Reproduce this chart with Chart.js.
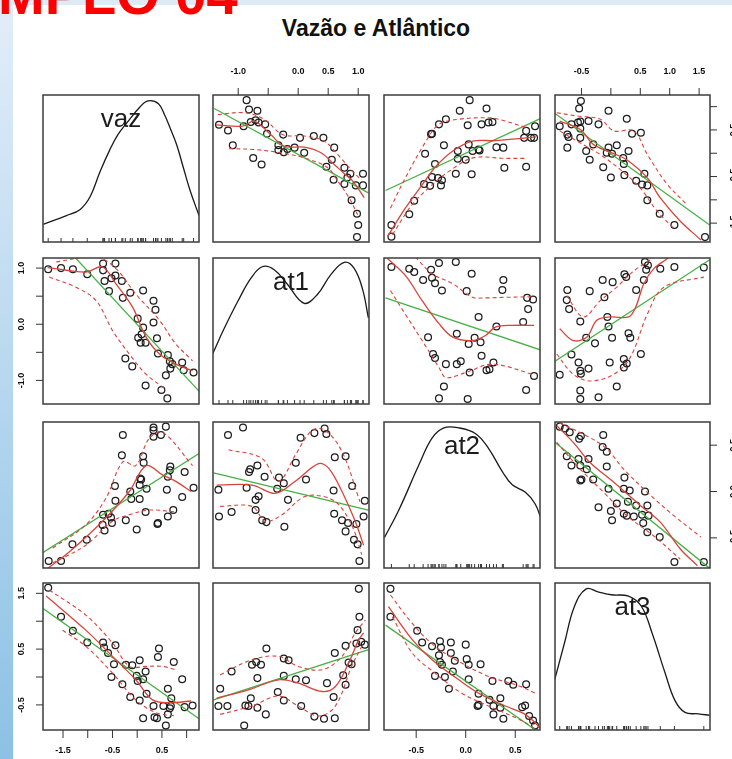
<!DOCTYPE html>
<html lang="pt">
<head>
<meta charset="UTF-8">
<title>Vazão e Atlântico</title>
<script src="https://cdn.jsdelivr.net/npm/chart.js"></script>
<style>
  html, body { margin: 0; padding: 0; }
  body {
    width: 732px; height: 759px; position: relative; overflow: hidden;
    background: #fff; font-family: "Liberation Sans", Arial, sans-serif;
  }
  .strip-left { position: absolute; left: 0; top: 0; width: 13px; height: 759px;
    background: linear-gradient(to bottom, #e2eef8, #8cc1e5); }
  .strip-top { position: absolute; left: 0; top: 0; width: 732px; height: 5px; background: #dcebf6; }
  .slide-tag { position: absolute; left: -2px; top: -33px; font-weight: bold; font-size: 56px;
    line-height: 56px; color: #ff0000; white-space: nowrap; }
  h1 { position: absolute; left: 376px; top: 17px; transform: translateX(-50%); margin: 0;
    font-size: 23px; line-height: 23px; font-weight: bold; color: #111; white-space: nowrap; }
  canvas { position: absolute; }
</style>
</head>
<body>
<div class="strip-left"></div>
<div class="strip-top"></div>
<div class="slide-tag">MPLO 04</div>
<h1>Vazão e Atlântico</h1>

<script>
// ---- observations, read pair by pair (upper panels), mirrored in the lower panels
const p1At1 = [-0.86,-0.82,-0.68,-1.32,-1.17,-0.91,-0.79,-0.71,-0.66,-0.55,-0.52,-1.09,-0.75,-0.61,-0.25,0.03,0.26,0.42,-0.33,-0.33,-0.24,-0.18,-0.06,0.10,0.60,0.56,0.47,0.77,0.87,0.59,0.77,0.82,1.08,0.96,1.08,0.89,0.98,1.00,0.98];
const p1Vaz = [1.14,0.94,0.91,0.61,0.49,0.58,0.67,0.71,0.66,0.62,0.42,0.17,-0.10,-0.24,0.40,0.33,0.37,0.33,0.17,0.07,0.02,0.09,0.12,0.01,0.12,-0.14,-0.29,-0.31,-0.44,-0.57,-0.66,-0.52,-0.44,-0.69,-0.69,-1.01,-1.30,-1.54,-1.80];

const p2At2 = [0.04,-0.06,0.21,-0.20,-0.27,-0.34,-0.35,0.02,0.16,0.27,0.23,-0.22,-0.41,-0.08,0.03,0.13,0.07,0.14,0.31,0.38,0.61,0.70,0.59,0.66,0.69,-0.08,0.00,0.39,0.61,-0.31,-0.34,-0.28,-0.24,-0.36,-0.25,-0.42,-0.10,0.06,-0.52,-0.57,-0.75,-0.75];
const p2Vaz = [1.14,0.91,0.96,0.73,0.62,0.42,0.41,0.60,0.62,0.67,0.66,0.17,-0.01,0.05,0.19,0.08,0.05,0.06,0.13,0.12,0.48,0.58,0.33,0.33,0.33,-0.12,-0.14,-0.31,-0.29,-0.23,-0.51,-0.53,-0.58,-0.70,-0.69,-0.66,-0.44,-0.45,-1.02,-1.31,-1.54,-1.79];

const p3At3 = [-0.51,-0.54,-0.04,0.27,-0.87,-0.67,-0.56,-0.52,-0.38,-0.21,-0.52,-0.74,-0.72,-0.52,-0.74,0.36,0.51,-0.30,-0.04,0.10,-0.42,-0.36,-0.07,0.02,0.30,0.21,0.22,-0.13,0.00,0.23,0.43,0.57,0.53,0.62,0.62,0.83,1.08,1.60];
const p3Vaz = [1.12,0.96,0.91,0.74,0.58,0.62,0.66,0.68,0.69,0.62,0.53,0.40,0.35,0.33,0.12,0.42,0.44,0.19,0.12,0.17,0.05,-0.14,0.01,-0.01,0.05,-0.10,-0.23,-0.30,-0.52,-0.47,-0.59,-0.44,-0.67,-0.69,-1.01,-1.30,-1.54,-1.80];

const p4At2 = [-0.75,-0.57,-0.52,-0.43,-0.35,-0.34,-0.31,-0.24,-0.27,-0.10,0.06,0.01,0.38,0.37,0.62,0.68,0.63,0.13,0.31,0.58,-0.38,-0.09,0.03,0.09,0.15,-0.33,-0.31,-0.20,-0.09,-0.05,0.04,0.16,0.21,0.24,0.28,0.69,0.61,-0.22,-0.27,0.02];
const p4At1 = [1.02,0.99,0.93,0.79,0.97,0.83,0.73,0.60,1.09,1.11,0.90,0.59,0.79,0.61,0.47,0.44,0.27,0.13,-0.04,0.04,-0.23,-0.17,-0.35,-0.24,-0.32,-0.53,-0.60,-0.71,-0.71,-0.66,-0.86,-0.56,-0.82,-0.80,-0.68,-0.92,-1.17,-1.11,-1.32,-1.33];

const p5At3 = [0.58,0.63,0.60,0.84,1.08,1.58,0.23,0.26,-0.14,0.03,0.56,0.43,-0.36,-0.74,-0.75,-0.71,-0.11,-0.52,-0.06,-0.04,-0.42,-0.27,0.02,0.30,0.33,-0.67,0.51,-0.55,-0.52,-0.51,-0.38,-0.02,0.22,0.27,0.22,-0.87,0.10,-0.52,-0.52,-0.21];
const p5At1 = [1.11,1.05,0.97,0.99,1.02,1.01,0.89,0.84,0.79,0.75,0.79,0.61,0.59,0.61,0.43,0.27,0.48,0.05,0.13,-0.04,-0.24,-0.34,-0.24,-0.16,-0.24,-0.54,-0.53,-0.68,-0.83,-0.88,-0.79,-0.68,-0.62,-0.70,-0.77,-0.90,-1.11,-1.18,-1.33,-1.30];

const p6At3 = [-0.87,-0.78,-0.70,-0.54,-0.51,-0.13,-0.14,-0.07,-0.75,-0.55,-0.38,-0.67,-0.52,-0.41,-0.07,-0.50,-0.52,-0.30,0.23,-0.04,0.22,0.32,0.58,0.10,0.29,0.43,0.62,-0.21,0.00,0.22,0.27,0.39,0.53,0.64,0.02,0.55,0.62,0.83,1.08,1.58];
const p6At2 = [0.70,0.68,0.64,0.57,0.60,0.61,0.48,0.43,0.38,0.35,0.35,0.28,0.28,0.24,0.27,0.13,0.12,0.13,0.15,0.03,0.03,0.01,0.00,-0.13,-0.11,-0.15,-0.15,-0.17,-0.21,-0.24,-0.26,-0.27,-0.25,-0.26,-0.31,-0.34,-0.44,-0.49,-0.76,-0.76];

// ---- fitted lines per panel (row, col), as [x, y] pairs: green = linear fit, red = smoother, upper/lower = spread
const green12 = [[-1.40,0.96],[1.17,-0.85]];
const smooth12 = [[-1.37,0.61],[-0.93,0.58],[-0.73,0.69],[-0.46,0.40],[-0.23,0.15],[0.10,0.13],[0.38,0.01],[0.60,-0.24],[0.77,-0.44],[0.91,-0.60],[1.10,-0.95]];
const upper12 = [[-1.34,0.83],[-0.90,0.87],[-0.57,0.73],[-0.26,0.40],[0.10,0.37],[0.43,0.26],[0.66,-0.03],[0.88,-0.35],[1.05,-0.57]];
const lower12 = [[-1.15,0.10],[-0.73,0.08],[-0.29,0.01],[0.10,-0.10],[0.49,-0.31],[0.66,-0.60],[0.85,-0.96],[0.99,-1.32]];

const green13 = [[-0.81,-0.80],[0.76,0.75]];
const smooth13 = [[-0.79,-1.79],[-0.61,-1.18],[-0.44,-0.68],[-0.30,-0.28],[-0.13,0.05],[0.07,0.26],[0.30,0.27],[0.61,0.33],[0.71,0.35]];
const upper13 = [[-0.76,-1.18],[-0.61,-0.53],[-0.40,0.26],[-0.27,0.62],[-0.07,0.73],[0.24,0.76],[0.40,0.69],[0.61,0.55]];
const lower13 = [[-0.74,-1.75],[-0.54,-1.10],[-0.34,-0.68],[-0.17,-0.39],[0.07,-0.10],[0.40,-0.11],[0.61,-0.11]];

const green14 = [[-0.97,0.87],[1.68,-1.54]];
const smooth14 = [[-0.87,0.69],[-0.52,0.51],[-0.30,0.19],[0.05,-0.01],[0.27,-0.14],[0.62,-0.53],[0.84,-0.96],[1.18,-1.46],[1.53,-1.86]];
const upper14 = [[-0.92,0.87],[-0.58,0.80],[-0.18,0.73],[0.05,0.48],[0.39,0.48],[0.62,-0.03],[0.96,-0.67],[1.30,-1.11]];
const lower14 = [[-0.87,0.48],[-0.52,0.22],[-0.18,-0.03],[0.16,-0.35],[0.50,-0.75],[0.79,-1.25],[1.07,-1.61]];

const green21 = [[-1.90,1.80],[1.25,-1.19]];
const smooth21 = [[-1.81,1.01],[-1.04,0.93],[-0.70,1.02],[-0.43,0.72],[-0.09,0.30],[0.18,-0.23],[0.45,-0.53],[0.78,-0.71],[1.12,-0.83]];
const upper21 = [[-1.64,1.11],[-0.83,1.20],[-0.43,0.99],[-0.03,0.54],[0.45,0.07],[0.78,-0.35],[1.12,-0.65]];
const lower21 = [[-1.78,0.84],[-1.24,0.66],[-0.83,0.42],[-0.50,-0.11],[-0.16,-0.53],[0.18,-0.89],[0.58,-1.16]];

const green23 = [[-0.81,0.47],[0.76,-0.46]];
const smooth23 = [[-0.79,1.17],[-0.61,0.87],[-0.44,0.42],[-0.27,0.01],[-0.13,-0.23],[0.07,-0.29],[0.20,-0.20],[0.30,-0.05],[0.47,-0.02],[0.69,-0.02]];
const upper23 = [[-0.51,1.20],[-0.34,0.90],[-0.13,0.72],[0.07,0.48],[0.20,0.47],[0.40,0.48],[0.67,0.49]];
const lower23 = [[-0.76,0.60],[-0.61,0.18],[-0.44,-0.29],[-0.27,-0.77],[-0.20,-0.95],[0.00,-0.86],[0.27,-0.71],[0.69,-0.90]];

const green24 = [[-0.98,-0.68],[1.68,1.15]];
const smooth24 = [[-0.87,-0.08],[-0.64,-0.29],[-0.41,-0.23],[-0.24,0.07],[-0.01,0.13],[0.30,0.13],[0.42,0.30],[0.56,0.72],[0.73,0.99],[0.96,1.17],[1.10,1.30]];
const upper24 = [[-0.75,0.51],[-0.47,0.13],[-0.18,0.42],[0.10,0.66],[0.27,0.84],[0.44,0.99],[0.62,1.11],[0.80,1.25]];
const lower24 = [[-0.92,-0.53],[-0.64,-0.89],[-0.35,-1.01],[0.05,-0.89],[0.33,-0.59],[0.62,0.18],[0.90,0.66],[1.58,0.84]];

const green31 = [[-1.91,-0.66],[1.25,0.41]];
const smooth31 = [[-1.81,-0.83],[-1.37,-0.65],[-0.70,-0.32],[-0.16,0.00],[0.18,0.28],[0.51,0.18],[0.78,0.11],[1.09,0.00]];
const upper31 = [[-1.71,-0.61],[-1.04,-0.36],[-0.63,-0.07],[-0.29,0.32],[-0.03,0.28],[0.24,0.57],[0.51,0.64],[1.12,0.28]];
const lower31 = [[-1.71,-0.77],[-1.04,-0.58],[-0.50,-0.32],[-0.16,-0.25],[0.24,-0.20],[0.78,-0.22]];

const green32 = [[-1.41,0.20],[1.17,-0.20]];
const smooth32 = [[-1.36,0.07],[-0.77,0.07],[-0.38,-0.02],[-0.05,0.11],[0.34,0.30],[0.51,0.25],[0.73,0.00],[0.95,-0.32],[1.09,-0.58]];
const upper32 = [[-1.16,0.45],[-0.61,0.36],[-0.33,0.11],[-0.05,0.39],[0.23,0.66],[0.45,0.66],[0.73,0.43],[1.03,-0.11]];
const lower32 = [[-1.30,-0.16],[-0.77,-0.16],[-0.55,-0.32],[-0.27,-0.25],[0.06,-0.07],[0.28,-0.04],[0.62,-0.11],[0.89,-0.36],[1.06,-0.68]];

const green34 = [[-0.97,0.54],[1.68,-0.83]];
const smooth34 = [[-0.92,0.71],[-0.64,0.53],[-0.35,0.31],[0.05,0.10],[0.50,-0.15],[0.84,-0.33],[1.18,-0.62],[1.47,-0.80]];
const upper34 = [[-0.87,0.74],[-0.41,0.60],[-0.07,0.46],[0.22,0.24],[0.62,-0.01],[1.07,-0.26],[1.53,-0.49]];
const lower34 = [[-0.92,0.53],[-0.52,0.24],[-0.12,-0.01],[0.27,-0.26],[0.73,-0.48],[1.18,-0.73]];

const green41 = [[-1.91,1.23],[1.25,-0.75]];
const smooth41 = [[-1.84,1.45],[-1.04,0.84],[-0.50,0.37],[-0.03,-0.05],[0.31,-0.41],[0.65,-0.46],[1.09,-0.43]];
const upper41 = [[-1.78,1.56],[-1.04,1.11],[-0.50,0.61],[-0.16,0.19],[0.18,0.19],[0.51,0.19],[0.78,0.13]];
const lower41 = [[-1.51,0.84],[-1.04,0.55],[-0.50,0.07],[-0.03,-0.41],[0.38,-0.64],[0.78,-0.70]];

const green42 = [[-1.41,-0.41],[1.17,0.49]];
const smooth42 = [[-1.36,-0.38],[-0.83,-0.23],[-0.33,-0.05],[0.00,-0.11],[0.40,-0.26],[0.62,-0.17],[0.84,0.25],[1.01,0.67],[1.09,0.79]];
const upper42 = [[-1.30,0.04],[-0.77,0.31],[-0.33,0.37],[0.00,0.19],[0.40,0.13],[0.73,0.37],[0.95,0.79],[1.12,1.02]];
const lower42 = [[-1.30,-0.67],[-0.77,-0.52],[-0.33,-0.34],[0.00,-0.52],[0.34,-0.70],[0.62,-0.52],[0.89,0.19],[1.06,0.55]];

const green43 = [[-0.81,0.93],[0.77,-1.03]];
const smooth43 = [[-0.78,1.26],[-0.54,0.67],[-0.34,0.31],[-0.07,-0.05],[0.13,-0.29],[0.40,-0.52],[0.60,-0.67],[0.77,-0.94]];
const upper43 = [[-0.76,1.47],[-0.54,0.96],[-0.31,0.55],[-0.04,0.25],[0.23,0.01],[0.54,-0.16],[0.70,-0.29]];
const lower43 = [[-0.74,1.08],[-0.54,0.43],[-0.31,0.07],[-0.04,-0.29],[0.23,-0.52],[0.54,-0.76],[0.74,-0.97]];

// ---- density curves on the diagonal (relative density, 0 = panel floor, 1 = panel top)
const densVazX = [-1.90,-1.43,-1.16,-0.95,-0.75,-0.55,-0.39,-0.21,0.06,0.22,0.43,0.56,0.66,0.80,0.93,1.07,1.25];
const densVazY = [0.12,0.18,0.22,0.31,0.48,0.63,0.73,0.81,0.92,0.96,0.94,0.86,0.78,0.66,0.51,0.35,0.18];
const densAt1X = [-1.43,-1.23,-1.01,-0.79,-0.60,-0.40,-0.18,0.10,0.32,0.55,0.77,0.93,1.07,1.17];
const densAt1Y = [0.34,0.52,0.70,0.86,0.94,0.92,0.82,0.69,0.75,0.89,0.97,0.93,0.79,0.59];
const densAt2X = [-0.82,-0.68,-0.47,-0.34,-0.22,-0.07,0.10,0.23,0.37,0.47,0.60,0.70,0.77];
const densAt2Y = [0.21,0.39,0.71,0.89,0.96,0.96,0.92,0.82,0.66,0.57,0.52,0.44,0.32];
const densAt3X = [-0.97,-0.79,-0.62,-0.42,-0.22,0.01,0.30,0.52,0.70,0.92,1.09,1.26,1.49,1.68];
const densAt3Y = [0.32,0.59,0.84,0.96,0.94,0.92,0.91,0.84,0.66,0.39,0.20,0.12,0.11,0.10];

// ---- axis ranges, ticks and the tick labels that are printed
const vars = ['vaz', 'at1', 'at2', 'at3'];
const vazRange = [-1.905, 1.25];
const at1Range = [-1.42, 1.18];
const at2Range = [-0.825, 0.75];
const at3Range = [-0.95, 1.685];
const vazTicks = [-1.5, -1.0, -0.5, 0, 0.5, 1.0];
const at1Ticks = [-1.0, -0.5, 0, 0.5, 1.0];
const at2Ticks = [-0.5, 0, 0.5];
const at3Ticks = [-0.5, 0, 0.5, 1.0, 1.5];
const vazLabels = [-1.5, -0.5, 0.5];
const at1TopLabels = [-1.0, 0, 0.5, 1.0];
const at1LeftLabels = [-1.0, 0, 1.0];
const at2Labels = [-0.5, 0, 0.5];
const at3TopLabels = [-0.5, 0.5, 1.0, 1.5];
const at3LeftLabels = [-0.5, 0.5, 1.5];

const ranges = { vaz: vazRange, at1: at1Range, at2: at2Range, at3: at3Range };
const pairs = {
  'vaz|at1': { vaz: p1Vaz, at1: p1At1 },
  'vaz|at2': { vaz: p2Vaz, at2: p2At2 },
  'vaz|at3': { vaz: p3Vaz, at3: p3At3 },
  'at1|at2': { at1: p4At1, at2: p4At2 },
  'at1|at3': { at1: p5At1, at3: p5At3 },
  'at2|at3': { at2: p6At2, at3: p6At3 }
};
const panelLines = {
  '12': [green12, smooth12, upper12, lower12], '13': [green13, smooth13, upper13, lower13],
  '14': [green14, smooth14, upper14, lower14], '21': [green21, smooth21, upper21, lower21],
  '23': [green23, smooth23, upper23, lower23], '24': [green24, smooth24, upper24, lower24],
  '31': [green31, smooth31, upper31, lower31], '32': [green32, smooth32, upper32, lower32],
  '34': [green34, smooth34, upper34, lower34], '41': [green41, smooth41, upper41, lower41],
  '42': [green42, smooth42, upper42, lower42], '43': [green43, smooth43, upper43, lower43]
};
const densities = {
  vaz: [densVazX, densVazY], at1: [densAt1X, densAt1Y],
  at2: [densAt2X, densAt2Y], at3: [densAt3X, densAt3Y]
};
const rugs = { vaz: p1Vaz, at1: p1At1, at2: p4At2, at3: p5At3 };
const panelAxes = {
  '12': [{ side: 'top', ticks: at1Ticks, labels: at1TopLabels }],
  '14': [{ side: 'top', ticks: at3Ticks, labels: at3TopLabels }, { side: 'right', ticks: vazTicks, labels: vazLabels }],
  '21': [{ side: 'left', ticks: at1Ticks, labels: at1LeftLabels }],
  '34': [{ side: 'right', ticks: at2Ticks, labels: at2Labels }],
  '41': [{ side: 'left', ticks: at3Ticks, labels: at3LeftLabels }, { side: 'bottom', ticks: vazTicks, labels: vazLabels }],
  '43': [{ side: 'bottom', ticks: at2Ticks, labels: at2Labels }]
};

// ---- layout of the 4x4 grid (page pixels)
const colEdges = [[43, 199], [213, 369], [384, 540], [555, 710]];
const rowEdges = [[95, 242], [258, 404], [422, 568], [583, 730]];
const M = 45;
const FONT = '"Liberation Sans", Arial, sans-serif';
const GREEN = '#45b045';
const RED = '#d8443c';

function toXY(pairsList) {
  return pairsList.map(p => ({ x: p[0], y: p[1] }));
}

// frame, outer axes and the variable name on the diagonal
function panelDecor(axes, label) {
  return {
    id: 'panelDecor',
    afterDatasetsDraw(chart) {
      const { ctx, chartArea: a } = chart;
      const xs = chart.scales.x, ys = chart.scales.y;
      ctx.save();
      ctx.strokeStyle = '#3c3c3c';
      ctx.lineWidth = 1.5;
      ctx.strokeRect(a.left, a.top, a.right - a.left, a.bottom - a.top);

      ctx.lineWidth = 1;
      ctx.strokeStyle = '#333';
      ctx.fillStyle = '#0d0d0d';
      ctx.font = 'bold 9px ' + FONT;
      ctx.textAlign = 'center';
      ctx.textBaseline = 'middle';
      axes.forEach(ax => {
        ax.ticks.forEach(v => {
          ctx.beginPath();
          if (ax.side === 'top' || ax.side === 'bottom') {
            const px = xs.getPixelForValue(v);
            const y0 = ax.side === 'top' ? a.top : a.bottom;
            ctx.moveTo(px, y0);
            ctx.lineTo(px, ax.side === 'top' ? y0 - 7 : y0 + 8);
          } else {
            const py = ys.getPixelForValue(v);
            const x0 = ax.side === 'left' ? a.left : a.right;
            ctx.moveTo(x0, py);
            ctx.lineTo(ax.side === 'left' ? x0 - 7 : x0 + 7, py);
          }
          ctx.stroke();
        });
        ax.labels.forEach(v => {
          const txt = v.toFixed(1);
          if (ax.side === 'top') {
            ctx.fillText(txt, xs.getPixelForValue(v), a.top - 23);
          } else if (ax.side === 'bottom') {
            ctx.fillText(txt, xs.getPixelForValue(v), a.bottom + 21);
          } else {
            ctx.save();
            ctx.translate(ax.side === 'left' ? a.left - 21.5 : a.right + 24, ys.getPixelForValue(v));
            ctx.rotate(-Math.PI / 2);
            ctx.fillText(txt, 0, 0);
            ctx.restore();
          }
        });
      });

      if (label) {
        ctx.font = '26px ' + FONT;
        ctx.fillStyle = '#1c1c1c';
        ctx.textBaseline = 'alphabetic';
        ctx.fillText(label, (a.left + a.right) / 2, a.top + 32);
      }
      ctx.restore();
    }
  };
}

for (let r = 0; r < 4; r++) {
  for (let c = 0; c < 4; c++) {
    const key = '' + (r + 1) + (c + 1);
    const xVar = vars[c], yVar = vars[r];
    const [x0, x1] = colEdges[c];
    const [y0, y1] = rowEdges[r];

    const canvas = document.createElement('canvas');
    canvas.width = x1 - x0 + 2 * M;
    canvas.height = y1 - y0 + 2 * M;
    canvas.style.left = (x0 - M) + 'px';
    canvas.style.top = (y0 - M) + 'px';
    document.body.appendChild(canvas);

    let datasets, yMin, yMax;
    if (r === c) {
      const [dx, dy] = densities[xVar];
      datasets = [
        {
          type: 'line', data: dx.map((x, i) => ({ x, y: dy[i] })),
          borderColor: '#1a1a1a', borderWidth: 1.3, pointRadius: 0, tension: 0.4, fill: false
        },
        {
          type: 'scatter', data: rugs[xVar].map(x => ({ x, y: 0 })),
          pointStyle: 'line', rotation: 90, pointRadius: 4, pointBorderWidth: 1,
          pointBorderColor: '#333', clip: 0
        }
      ];
      yMin = 0; yMax = 1;
    } else {
      const pairKey = vars.indexOf(xVar) < vars.indexOf(yVar) ? xVar + '|' + yVar : yVar + '|' + xVar;
      const pair = pairs[pairKey];
      const pts = pair[xVar].map((x, i) => ({ x, y: pair[yVar][i] }));
      const [fit, smooth, up, lo] = panelLines[key];
      // first dataset is painted last, so the smoother sits on top like in R
      datasets = [
        { type: 'line', data: toXY(smooth), borderColor: RED, borderWidth: 1.3, pointRadius: 0, tension: 0.35, fill: false },
        { type: 'line', data: toXY(up), borderColor: RED, borderWidth: 1.1, borderDash: [4, 3], pointRadius: 0, tension: 0.35, fill: false },
        { type: 'line', data: toXY(lo), borderColor: RED, borderWidth: 1.1, borderDash: [4, 3], pointRadius: 0, tension: 0.35, fill: false },
        { type: 'line', data: toXY(fit), borderColor: GREEN, borderWidth: 1.3, pointRadius: 0, fill: false },
        {
          type: 'scatter', data: pts, pointRadius: 3.4, pointBorderWidth: 1.25,
          pointBorderColor: '#1e1e1e', pointBackgroundColor: 'rgba(0,0,0,0)'
        }
      ];
      [yMin, yMax] = ranges[yVar];
    }

    new Chart(canvas, {
      type: 'scatter',
      data: { datasets },
      options: {
        responsive: false,
        animation: false,
        events: [],
        layout: { padding: M },
        plugins: { legend: { display: false }, tooltip: { enabled: false } },
        scales: {
          x: { type: 'linear', display: false, min: ranges[xVar][0], max: ranges[xVar][1] },
          y: { type: 'linear', display: false, min: yMin, max: yMax }
        }
      },
      plugins: [panelDecor(panelAxes[key] || [], r === c ? xVar : null)]
    });
  }
}
</script>
</body>
</html>
